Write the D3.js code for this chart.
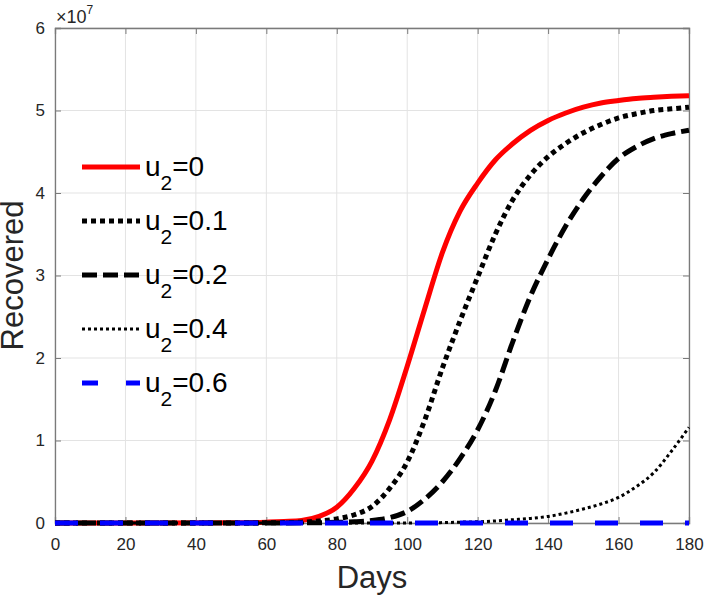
<!DOCTYPE html>
<html>
<head>
    <meta charset="utf-8">
    <script src="https://d3js.org/d3.v7.min.js"></script>
    <title>Recovered</title>
    <style>
        body { margin: 0px; background: #fff; }
        text { font-family: "Liberation Sans", Arial, Helvetica, sans-serif; fill: #262626; }
        .grid line { stroke: #e3e3e3; stroke-width: 1; }
        .axis-label { font-size: 31px; }
        .legend-text { font-size: 28px; fill: #000; }
    </style>
</head>
<body>
<svg width="708" height="597"></svg>
<script>
    // values in units of 1e7
    const days = [0, 50, 60, 65, 70, 75, 80, 85, 90, 95, 100, 105, 110, 115, 120,
                  125, 130, 135, 140, 145, 150, 155, 160, 165, 170, 175, 180];
    const recU0   = [0, 0.002, 0.01, 0.018, 0.03, 0.08, 0.19, 0.42, 0.75, 1.25, 1.9, 2.6, 3.28, 3.78, 4.12,
                     4.4, 4.6, 4.76, 4.88, 4.97, 5.04, 5.09, 5.12, 5.145, 5.16, 5.172, 5.18];
    const recU01  = [0, 0, 0.002, 0.005, 0.01, 0.025, 0.05, 0.1, 0.2, 0.42, 0.74, 1.25, 1.88, 2.45, 2.98,
                     3.5, 3.92, 4.22, 4.44, 4.6, 4.73, 4.83, 4.91, 4.96, 5.0, 5.02, 5.04];
    const recU02  = [0, 0, 0, 0, 0.002, 0.004, 0.008, 0.015, 0.03, 0.065, 0.14, 0.29, 0.5, 0.78, 1.13,
                     1.6, 2.2, 2.75, 3.2, 3.6, 3.93, 4.2, 4.42, 4.56, 4.66, 4.72, 4.76];
    const recU04  = [0, 0, 0, 0, 0, 0, 0, 0, 0, 0, 0, 0.002, 0.005, 0.01, 0.015,
                     0.025, 0.04, 0.055, 0.08, 0.12, 0.17, 0.23, 0.31, 0.44, 0.61, 0.87, 1.16];
    const recU06  = [0, 0, 0, 0, 0, 0, 0, 0, 0, 0, 0, 0, 0, 0, 0,
                     0, 0, 0, 0, 0, 0, 0, 0, 0, 0, 0, 0];
    const seriesNames = ['0', '0.1', '0.2', '0.4', '0.6'];
    const xTicks = [0, 20, 40, 60, 80, 100, 120, 140, 160, 180];
    const yTicks = [0, 1, 2, 3, 4, 5, 6];

    const styles = [
        { color: '#ff0000', width: 5, dash: null },
        { color: '#000', width: 5, dash: '5,4' },
        { color: '#000', width: 5, dash: '15,6' },
        { color: '#000', width: 3, dash: '3,3' },
        { color: '#0000ff', width: 5, dash: '23,22' }
    ];
    const allSeries = [recU0, recU01, recU02, recU04, recU06];

    const margin = { left: 55, right: 19, top: 28, bottom: 74 };
    const svg = d3.select('svg');
    const width = +svg.attr('width');
    const height = +svg.attr('height');
    const innerWidth = width - margin.left - margin.right;
    const innerHeight = height - margin.top - margin.bottom;
    const g = svg.append('g')
        .attr('transform', `translate(${margin.left},${margin.top})`);

    const xScale = d3.scaleLinear().domain([0, 180]).range([0, innerWidth]);
    const yScale = d3.scaleLinear().domain([0, 6]).range([innerHeight, 0]);

    // grid
    const grid = g.append('g').attr('class', 'grid');
    grid.selectAll('.gx').data(xTicks).enter().append('line')
        .attr('x1', d => xScale(d)).attr('x2', d => xScale(d))
        .attr('y1', 0).attr('y2', innerHeight);
    grid.selectAll('.gy').data(yTicks).enter().append('line')
        .attr('x1', 0).attr('x2', innerWidth)
        .attr('y1', d => yScale(d)).attr('y2', d => yScale(d));

    // axes, ticks inside like matlab
    const tickLen = 6;
    const axisColor = '#7a7a7a';
    const fmt = d3.format('d');
    const xAxisG = g.append('g').attr('transform', `translate(0,${innerHeight})`)
        .call(d3.axisBottom(xScale).tickValues(xTicks).tickFormat(fmt).tickSize(-tickLen).tickPadding(20));
    const xTopG = g.append('g')
        .call(d3.axisTop(xScale).tickValues(xTicks).tickSize(-tickLen).tickFormat(''));
    const yAxisG = g.append('g')
        .call(d3.axisLeft(yScale).tickValues(yTicks).tickFormat(fmt).tickSize(-tickLen).tickPadding(10));
    const yRightG = g.append('g').attr('transform', `translate(${innerWidth},0)`)
        .call(d3.axisRight(yScale).tickValues(yTicks).tickSize(-tickLen).tickFormat(''));
    [xAxisG, xTopG, yAxisG, yRightG].forEach(a => {
        a.select('.domain').attr('stroke', axisColor).attr('stroke-width', 1.3);
        a.selectAll('.tick line').attr('stroke', axisColor);
        a.selectAll('.tick text').attr('fill', '#262626')
            .style('font-size', '17px')
            .style('font-family', '"Liberation Sans", Arial, sans-serif');
    });
    xAxisG.selectAll('.tick text').attr('dy', '0.4em');

    // exponent
    const expText = svg.append('text').attr('x', 56).attr('y', 23).style('font-size', '18px');
    expText.append('tspan').text('\u00d710');
    expText.append('tspan').attr('dy', -9).style('font-size', '12px').text('7');

    // axis labels
    svg.append('text').attr('class', 'axis-label')
        .attr('x', margin.left + innerWidth / 2).attr('y', 588)
        .attr('text-anchor', 'middle').text('Days');
    svg.append('text').attr('class', 'axis-label')
        .attr('transform', `translate(23,${margin.top + innerHeight / 2}) rotate(-90)`)
        .attr('text-anchor', 'middle').text('Recovered');

    // lines
    const line = d3.line()
        .x((d, i) => xScale(days[i]))
        .y(d => yScale(d))
        .curve(d3.curveMonotoneX);
    allSeries.forEach((s, i) => {
        const st = styles[i];
        g.append('path')
            .attr('fill', 'none')
            .attr('stroke', st.color)
            .attr('stroke-width', st.width)
            .attr('stroke-dasharray', st.dash)
            .attr('d', line(s));
    });

    // legend
    const legend = svg.append('g').attr('transform', 'translate(82,167)');
    seriesNames.forEach((name, i) => {
        const st = styles[i];
        const row = legend.append('g').attr('transform', `translate(0,${i * 54})`);
        row.append('line')
            .attr('x1', 0).attr('x2', 58).attr('y1', 0).attr('y2', 0)
            .attr('stroke', st.color)
            .attr('stroke-width', st.width)
            .attr('stroke-dasharray', i === 4 ? '16,28' : st.dash);
        const t = row.append('text').attr('class', 'legend-text')
            .attr('x', 63).attr('y', 9);
        t.append('tspan').text('u');
        t.append('tspan').attr('dy', 14).style('font-size', '21px').text('2');
        t.append('tspan').attr('dy', -14).text('=' + name);
    });
</script>
</body>
</html>
